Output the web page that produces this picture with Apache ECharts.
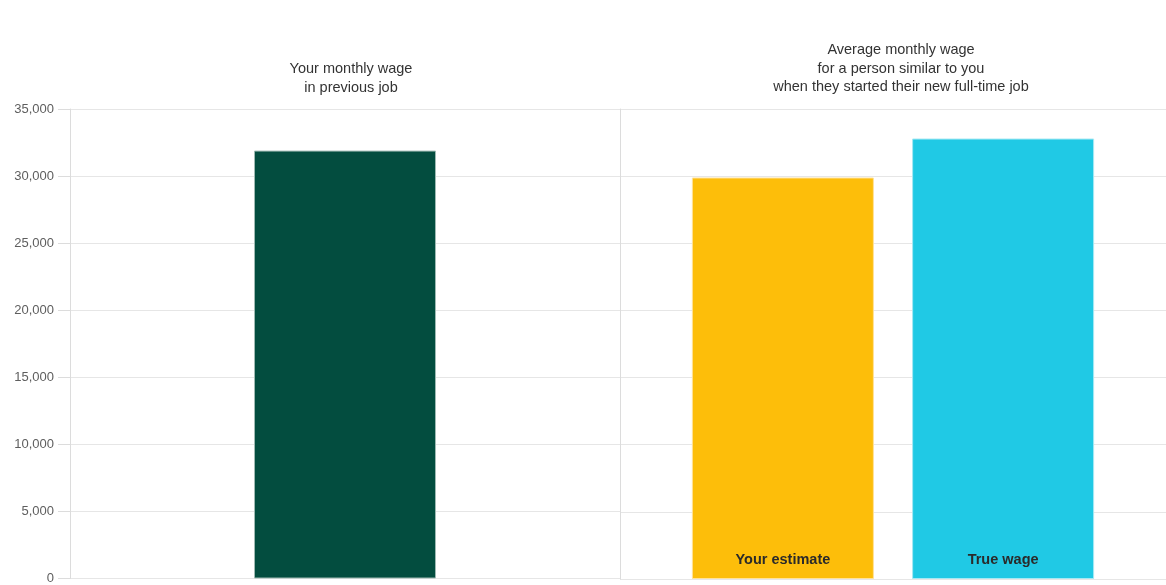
<!DOCTYPE html>
<html>
<head>
<meta charset="utf-8">
<script src="https://cdn.jsdelivr.net/npm/echarts@6/dist/echarts.min.js"></script>
<style>
html,body{margin:0;padding:0;background:#fff;}
#chart{width:1166px;height:585px;}
</style>
</head>
<body>
<div id="chart"></div>
<script>
// Data
var leftTitle = 'Your monthly wage\nin previous job';
var rightTitle = 'Average monthly wage\nfor a person similar to you\nwhen they started their new full-time job';
var leftCategories = ['Previous job'];
var rightCategories = ['Similar person'];
var previousWage = [31900];
var yourEstimate = [29900];
var trueWage = [32800];
var estimateLabel = 'Your estimate';
var trueLabel = 'True wage';
var yMin = 0, yMax = 35000, yStep = 5000;

var FONT = '"Liberation Sans", Arial, sans-serif';
var chart = echarts.init(document.getElementById('chart'), null, {renderer: 'canvas'});

var gridLineColor = '#e6e6e6';
var axisLineColor = '#dcdcdc';

function valueAxis(gridIndex, showLabels) {
  return {
    type: 'value', gridIndex: gridIndex,
    min: yMin, max: yMax, interval: yStep,
    axisLine: {show: true, lineStyle: {color: axisLineColor, width: 1}},
    axisTick: {show: showLabels, length: 12, lineStyle: {color: axisLineColor}},
    axisLabel: {show: showLabels, color: '#5e5e5e', fontFamily: FONT, fontSize: 13, margin: 16},
    splitLine: {show: true, lineStyle: {color: gridLineColor, width: 1}}
  };
}
function catAxis(gridIndex, data) {
  return {
    type: 'category', gridIndex: gridIndex, data: data,
    axisLine: {show: false}, axisTick: {show: false}, axisLabel: {show: false}, splitLine: {show: false}
  };
}

var barLabel = function (text) {
  return {
    show: true, position: 'insideBottom', distance: 12,
    formatter: text, color: '#2a2a2a', fontFamily: FONT, fontSize: 14.5, fontWeight: 'bold'
  };
};

chart.setOption({
  animation: false,
  backgroundColor: '#ffffff',
  title: [
    {text: leftTitle, left: 346, top: 55, textAlign: 'center',
     textStyle: {fontFamily: FONT, fontSize: 14.5, fontWeight: 'normal', color: '#333', lineHeight: 18.5}},
    {text: rightTitle, left: 896, top: 36, textAlign: 'center',
     textStyle: {fontFamily: FONT, fontSize: 14.5, fontWeight: 'normal', color: '#333', lineHeight: 18.5}}
  ],
  grid: [
    {left: 70, width: 550, top: 109, bottom: 6},
    {left: 620, width: 552, top: 109, bottom: 6}
  ],
  xAxis: [catAxis(0, leftCategories), catAxis(1, rightCategories)],
  yAxis: [valueAxis(0, true), valueAxis(1, false)],
  series: [
    {type: 'bar', xAxisIndex: 0, yAxisIndex: 0, data: previousWage, barWidth: 182,
     itemStyle: {color: '#034d3f', borderColor: '#9fbab3', borderWidth: 1}},
    {type: 'bar', name: estimateLabel, xAxisIndex: 1, yAxisIndex: 1, data: yourEstimate, barWidth: 182, barGap: '21%',
     itemStyle: {color: '#fdbe0a', borderColor: '#ffe29a', borderWidth: 1}, label: barLabel(estimateLabel)},
    {type: 'bar', name: trueLabel, xAxisIndex: 1, yAxisIndex: 1, data: trueWage, barWidth: 182, barGap: '21%',
     itemStyle: {color: '#20c9e5', borderColor: '#a6e8f3', borderWidth: 1}, label: barLabel(trueLabel)}
  ]
});
</script>
</body>
</html>
